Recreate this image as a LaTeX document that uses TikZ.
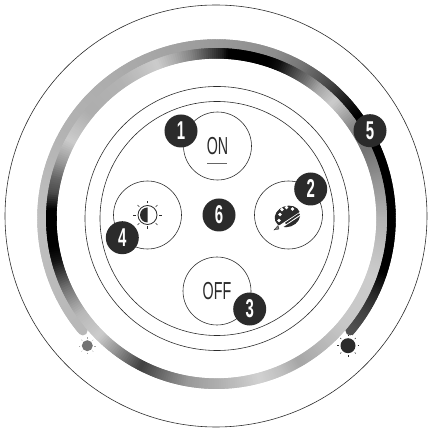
\documentclass[tikz,border=0pt]{standalone}
\usepackage{fontspec}
\usetikzlibrary{calc}
\newfontfamily\labelfont[FakeStretch=0.58]{Liberation Sans}
\definecolor{inkdark}{HTML}{2B2B2B}
\newcommand{\ringband}[5]{%
  \foreach \aj/\cj [remember=\aj as \ai (initially #3), remember=\cj as \ci (initially #4)] in {#5}{
    \pgfmathsetmacro{\nsteps}{int(ceil(abs(\aj-\ai)/0.8))}
    \foreach \k in {1,...,\nsteps}{
      \pgfmathsetmacro{\sa}{\ai+(\aj-\ai)*(\k-1)/\nsteps}
      \pgfmathsetmacro{\sb}{\ai+(\aj-\ai)*\k/\nsteps+0.7*(\aj-\ai)/abs(\aj-\ai)}
      \pgfmathsetmacro{\sc}{\ci+(\cj-\ci)*(\k-0.5)/\nsteps}
      \draw[black!\sc, line width=#2*0.03cm] (\sa:#1) arc[start angle=\sa, end angle=\sb, radius=#1];
    }
  }
}
\tikzset{
  thinline/.style={draw=inkdark, line width=0.5pt},
  button/.style={circle, thinline, minimum size=2.04cm, inner sep=0pt, text=inkdark, font=\labelfont\fontsize{21}{21}\selectfont},
  badge/.style={circle, fill=inkdark, minimum size=0.99cm, inner sep=0pt, text=white, font=\labelfont\bfseries\fontsize{22}{22}\selectfont},
}
\begin{document}
\begin{tikzpicture}[x=0.03cm, y=0.03cm]
  \useasboundingbox (-216.5,-212.5) rectangle (210.5,218.5);
  \fill[white] (-216.5,-212.5) rectangle (210.5,218.5);

  % Outer circle
  \draw[thinline] (-0.5,2.5) circle (211);

  % Outer band, open at the bottom
  \fill[black!28] (220:174.5) circle (4.75);
  \fill[black!68] (-40:174.5) circle (4.75);
  \ringband{174.5}{9.5}{220}{28}{180/25, 150/30, 130/32, 110/35, 90/40, 70/45, 60/55, 50/72, 42/90, 36/100, -18/100, -25/85, -32/75, -40/68}

  % Full ring
  \ringband{165.2}{10.5}{0}{30}{13/42, 25/55, 35/45, 45/20, 52/35, 57/55, 63/75, 68/95, 72/100, 86/100, 88/88, 93/70, 99/48, 105/32, 111/20, 125/30, 140/32, 152/20, 160/40, 166/60, 171/70, 177/100, 190/100, 195/92, 205/55, 215/28, 225/20, 232/40, 243/75, 250/60, 260/40, 270/32, 285/18, 293/25, 300/35, 310/28, 320/22, 340/20, 350/25, 360/30}

  % Inner circles
  \draw[thinline] (0.5,0) circle (132);
  \draw[thinline] (0.5,0) circle (117);

  % Buttons
  \node[button] (on) at (1,72.5) {ON};
  \node[button] (off) at (0.5,-72.5) {OFF};
  \node[button] (dim) at (-69,3.5) {};
  \node[button] (color) at (72,3.5) {};
  \draw[draw=black!60, line width=0.5pt] (-9.5,55.5) -- (10.5,55.5); % Bar under the label

  % Brightness symbol
  \begin{scope}[shift={(dim.center)}]
    \draw[thinline, line width=0.7pt] (0,0) circle (9.5);
    \fill[inkdark] (0,7.5) arc[start angle=90, end angle=270, radius=7.5] -- cycle;
    \foreach \a in {0,45,...,315}
      \draw[thinline, line width=0.6pt] (\a:11.5) -- (\a:14);
  \end{scope}

  % Palette symbol
  \begin{scope}[shift={(color.center)}]
    \fill[inkdark, rotate=20] (-1.5,-1) ellipse (13 and 10.5);
    \foreach \p in {(-6.5,5.5),(-8.5,0.5),(-9.5,-5.5),(-2,7.5),(4,6)}
      \fill[white] \p circle (1.9);
    \draw[white, line width=3pt] (13,2) -- (-10,-13);
    \draw[inkdark, line width=1.4pt] (11,1) -- (-3,-8.5);
    \draw[thinline, fill=black!50, line width=0.3pt] (-10.5,-10.5) -- (-14.5,-15) -- (-9.5,-14) -- cycle;
  \end{scope}

  % Level suns
  \coordinate (sunlow) at (-129.2,-127.2);
  \coordinate (sunhigh) at (131.5,-127.2);
  \fill[black!55] (sunlow) circle (5.5);
  \fill[inkdark] (sunhigh) circle (7.5);
  \foreach \a in {0,45,...,315}{
    \draw[black!35, line width=0.3pt] ($(sunlow)+(\a:7)$) -- ($(sunlow)+(\a:8.5)$);
    \draw[inkdark, line width=0.4pt] ($(sunhigh)+(\a:9.5)$) -- ($(sunhigh)+(\a:11)$);
  }

  % Number badges
  \node[badge] (one) at (-35.5,87.5) {1};
  \node[badge] (two) at (94.2,29.5) {2};
  \node[badge] (three) at (33.2,-90.5) {3};
  \node[badge] (four) at (-94.2,-19.2) {4};
  \node[badge] (five) at (153.5,87.8) {5};
  \node[badge] (six) at (2.5,3.5) {6};
\end{tikzpicture}
\end{document}
